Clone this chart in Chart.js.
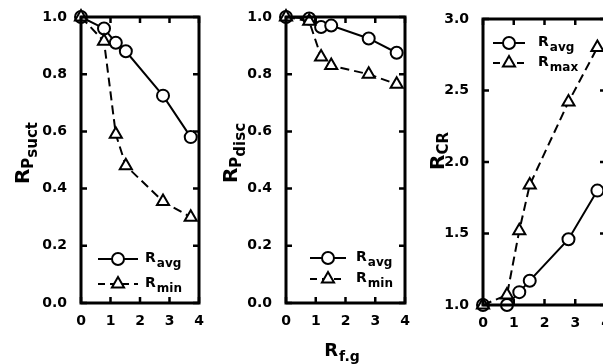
<!DOCTYPE html>
<html>
<head>
<meta charset="utf-8">
<script src="https://cdn.jsdelivr.net/npm/chart.js@4.4.0/dist/chart.umd.min.js"></script>
<style>
  html, body { margin: 0; padding: 0; background: #fff; overflow: hidden; width: 603px; height: 364px; }
  canvas { position: absolute; top: 0; }
</style>
</head>
<body>
<canvas id="suctChart" width="210" height="364" style="left:0px"></canvas>
<canvas id="discChart" width="210" height="364" style="left:205px"></canvas>
<canvas id="crChart" width="220" height="364" style="left:400px"></canvas>
<script>
// R_f.g values (shared x positions)
const rfg = [0, 0.78, 1.18, 1.52, 2.78, 3.72];

// panel 1: R_Psuct
const suctAvg = [1.0, 0.96, 0.91, 0.88, 0.725, 0.58];
const suctMin = [1.0, 0.915, 0.59, 0.48, 0.355, 0.30];

// panel 2: R_Pdisc
const discAvg = [1.0, 0.995, 0.965, 0.97, 0.925, 0.875];
const discMin = [1.0, 0.985, 0.86, 0.83, 0.80, 0.765];

// panel 3: R_CR
const crAvg = [1.0, 1.0, 1.09, 1.17, 1.46, 1.80];
const crMax = [1.0, 1.07, 1.52, 1.84, 2.42, 2.80];

const xTicks = [0, 1, 2, 3, 4];
const pTicks = [0, 0.2, 0.4, 0.6, 0.8, 1.0];
const crTicks = [1.0, 1.5, 2.0, 2.5, 3.0];

const FONT = '"DejaVu Sans", sans-serif';

function toPoints(xs, ys) {
  return xs.map((x, i) => ({ x: x, y: ys[i] }));
}

function drawTriangle(ctx, x, y, r) {
  ctx.beginPath();
  for (let i = 0; i < 3; i++) {
    const a = i * 2 * Math.PI / 3;
    const px = x + Math.sin(a) * r;
    const py = y - Math.cos(a) * r;
    if (i === 0) ctx.moveTo(px, py); else ctx.lineTo(px, py);
  }
  ctx.closePath();
}

// text with subscript pieces, drawn from the current origin
function drawSubText(ctx, parts) {
  let cx = 0;
  parts.forEach(p => {
    ctx.font = 'bold ' + p.size + 'px ' + FONT;
    ctx.fillText(p.text, cx, p.dy || 0);
    cx += ctx.measureText(p.text).width + (p.gap || 0);
  });
  return cx;
}

function textWidth(ctx, parts) {
  let w = 0;
  parts.forEach(p => {
    ctx.font = 'bold ' + p.size + 'px ' + FONT;
    w += ctx.measureText(p.text).width + (p.gap || 0);
  });
  return w;
}

const framePlugin = {
  id: 'frame',
  afterDraw(chart, args, opts) {
    const ctx = chart.ctx;
    const a = chart.chartArea;
    const xs = chart.scales.x, ys = chart.scales.y;
    ctx.save();
    ctx.strokeStyle = '#000';
    ctx.lineWidth = 3;
    ctx.strokeRect(a.left, a.top, a.right - a.left, a.bottom - a.top);
    ctx.lineWidth = 2.5;
    ctx.beginPath();
    xs.ticks.forEach(t => {
      const px = xs.getPixelForValue(t.value);
      ctx.moveTo(px, a.bottom); ctx.lineTo(px, a.bottom - 6);
      ctx.moveTo(px, a.top); ctx.lineTo(px, a.top + 6);
    });
    ys.ticks.forEach(t => {
      const py = ys.getPixelForValue(t.value);
      ctx.moveTo(a.left, py); ctx.lineTo(a.left + 6, py);
      ctx.moveTo(a.right, py); ctx.lineTo(a.right - 6, py);
    });
    ctx.stroke();

    // legend
    ctx.fillStyle = '#000';
    ctx.textBaseline = 'alphabetic';
    opts.legend.forEach(l => {
      ctx.lineWidth = 2;
      ctx.setLineDash(l.dashed ? [7, 5] : []);
      ctx.beginPath();
      ctx.moveTo(l.x0, l.y); ctx.lineTo(l.x1, l.y);
      ctx.stroke();
      ctx.setLineDash([]);
      ctx.fillStyle = '#fff';
      if (l.marker === 'circle') {
        ctx.beginPath(); ctx.arc(l.xm, l.y, 6, 0, 2 * Math.PI);
      } else {
        drawTriangle(ctx, l.xm, l.y, 7);
      }
      ctx.fill(); ctx.stroke();
      ctx.fillStyle = '#000';
      ctx.save();
      ctx.translate(l.xt, l.y + 3);
      drawSubText(ctx, [{ text: 'R', size: 14, gap: 1 }, { text: l.sub, size: 12, dy: 5 }]);
      ctx.restore();
    });

    // y axis title, rotated
    const t = opts.yTitle;
    ctx.save();
    ctx.translate(t.x, t.y);
    ctx.rotate(-Math.PI / 2);
    const w = textWidth(ctx, t.parts);
    ctx.translate(-w / 2, 0);
    drawSubText(ctx, t.parts);
    ctx.restore();

    if (opts.xTitle) {
      const xt = opts.xTitle;
      ctx.save();
      const w2 = textWidth(ctx, xt.parts);
      ctx.translate(xt.x - w2 / 2, xt.y);
      drawSubText(ctx, xt.parts);
      ctx.restore();
    }
    ctx.restore();
  }
};

function makeChart(id, cfg) {
  const ctx = document.getElementById(id).getContext('2d');
  return new Chart(ctx, {
    type: 'line',
    data: {
      datasets: [{
        data: toPoints(rfg, cfg.avg),
        borderColor: '#000',
        borderWidth: 2,
        pointStyle: 'circle',
        pointRadius: 6,
        pointBorderWidth: 2,
        pointBackgroundColor: '#fff',
        pointBorderColor: '#000',
        tension: 0,
        clip: false,
        order: 1
      }, {
        data: toPoints(rfg, cfg.other),
        borderColor: '#000',
        borderWidth: 2,
        borderDash: [9, 5],
        pointStyle: 'triangle',
        pointRadius: 7,
        pointBorderWidth: 2,
        pointBackgroundColor: '#fff',
        pointBorderColor: '#000',
        tension: 0,
        clip: false,
        order: 0
      }]
    },
    options: {
      responsive: false,
      animation: false,
      devicePixelRatio: 1,
      layout: { padding: cfg.padding },
      plugins: {
        legend: { display: false },
        tooltip: { enabled: false },
        frame: { legend: cfg.legend, yTitle: cfg.yTitle, xTitle: cfg.xTitle }
      },
      scales: {
        x: {
          type: 'linear', min: 0, max: 4,
          afterBuildTicks: s => { s.ticks = xTicks.map(v => ({ value: v })); },
          afterFit: s => { s.height = 30; s.paddingLeft = 0; s.paddingRight = 0; },
          grid: { display: false },
          border: { display: false },
          ticks: { color: '#000', padding: 2, maxRotation: 0, font: { family: FONT, size: 14, weight: 'bold' } }
        },
        y: {
          type: 'linear', min: cfg.ymin, max: cfg.ymax,
          afterBuildTicks: s => { s.ticks = cfg.yTicks.map(v => ({ value: v })); },
          afterFit: s => { s.width = cfg.yWidth; s.paddingTop = 0; s.paddingBottom = 0; },
          grid: { display: false },
          border: { display: false },
          ticks: { color: '#000', padding: 6, callback: v => v.toFixed(1), font: { family: FONT, size: 14, weight: 'bold' } }
        }
      }
    },
    plugins: [framePlugin]
  });
}

makeChart('suctChart', {
  avg: suctAvg, other: suctMin, ymin: 0, ymax: 1, yTicks: pTicks,
  yWidth: 81, padding: { left: 0, right: 11, top: 17, bottom: 31 },
  legend: [
    { marker: 'circle', x0: 98, x1: 138, xm: 118, xt: 145, y: 259, sub: 'avg' },
    { marker: 'triangle', dashed: true, x0: 98, x1: 138, xm: 118, xt: 145, y: 284, sub: 'min' }
  ],
  yTitle: { x: 29, y: 153, parts: [{ text: 'R', size: 20 }, { text: 'P', size: 15, dy: 4 }, { text: 'suct', size: 15, dy: 8 }] }
});

makeChart('discChart', {
  avg: discAvg, other: discMin, ymin: 0, ymax: 1, yTicks: pTicks,
  yWidth: 81, padding: { left: 0, right: 10, top: 17, bottom: 31 },
  legend: [
    { marker: 'circle', x0: 105, x1: 141, xm: 123, xt: 151, y: 258, sub: 'avg' },
    { marker: 'triangle', dashed: true, x0: 105, x1: 141, xm: 123, xt: 151, y: 279, sub: 'min' }
  ],
  yTitle: { x: 32, y: 153, parts: [{ text: 'R', size: 20 }, { text: 'P', size: 15, dy: 4 }, { text: 'disc', size: 15, dy: 8 }] },
  xTitle: { x: 137, y: 356, parts: [{ text: 'R', size: 18, gap: 1 }, { text: 'f.g', size: 14, dy: 5 }] }
});

makeChart('crChart', {
  avg: crAvg, other: crMax, ymin: 1, ymax: 3, yTicks: crTicks,
  yWidth: 83, padding: { left: 0, right: 14, top: 19, bottom: 29 },
  legend: [
    { marker: 'circle', x0: 93, x1: 125, xm: 109, xt: 138, y: 43, sub: 'avg' },
    { marker: 'triangle', dashed: true, x0: 93, x1: 125, xm: 109, xt: 138, y: 63, sub: 'max' }
  ],
  yTitle: { x: 44, y: 151, parts: [{ text: 'R', size: 20 }, { text: 'CR', size: 15, dy: 4 }] }
});
</script>
</body>
</html>
